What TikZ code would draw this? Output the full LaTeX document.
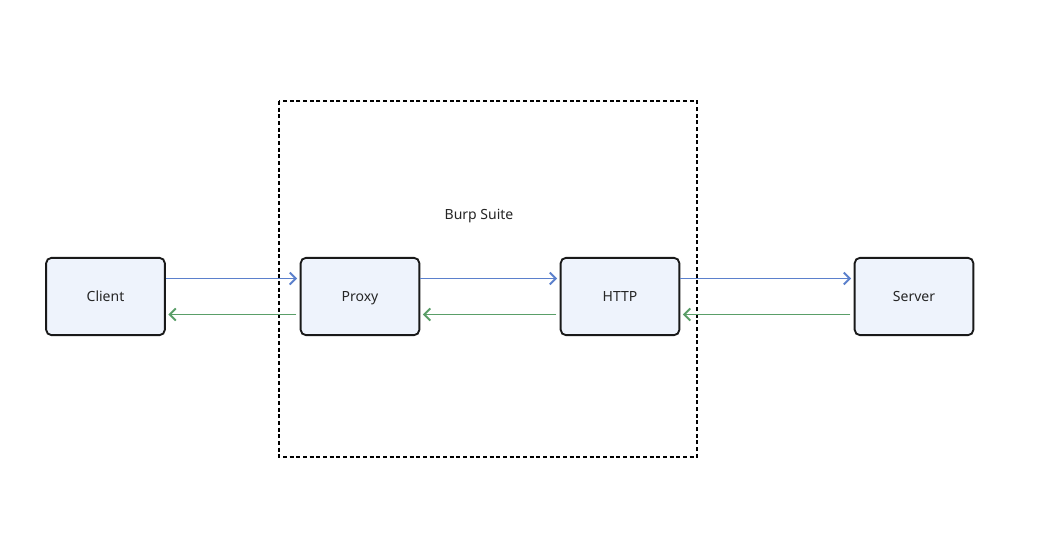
\documentclass[tikz,border=0pt]{standalone}
\usepackage{fontspec}
\setmainfont{Noto Sans}
\usepackage{xcolor}
\usetikzlibrary{arrows.meta,positioning}

\definecolor{boxfill}{HTML}{EEF3FC}
\definecolor{reqblue}{HTML}{5B80CC}
\definecolor{resgreen}{HTML}{5A9E68}

\begin{document}
\begin{tikzpicture}[x=0.75pt,y=-0.75pt,
	box/.style={draw=black!90,line width=1.4pt,fill=boxfill,rounded corners=4pt,
		minimum width=89pt,minimum height=58pt,inner sep=0pt,text height=10pt,text depth=2pt,
		font=\fontsize{10.5}{12}\selectfont,text=black!85},
	req/.style={-{Straight Barb[length=4.5pt,width=9pt]},reqblue,line width=1.4pt,shorten >=2pt},
	res/.style={-{Straight Barb[length=4.5pt,width=9pt]},resgreen,line width=1.4pt,shorten >=2pt,shorten <=2.5pt}]
		\useasboundingbox (0,0) rectangle (1048,539);
		\draw[line width=1.5pt,dash pattern=on 3pt off 2pt] (279,101) rectangle (697,457);
		\node[font=\fontsize{10.5}{12}\selectfont,text=black!85] (burp) at (479,216) {Burp Suite};
			\node[box] (client) at (105.5,296.5) {Client};
			\node[box] (proxy) at (360,296.5) {Proxy};
			\node[box] (http) at (620,296.5) {HTTP};
			\node[box] (server) at (914,296.5) {Server};
		\draw[req] ([yshift=13.5pt]client.east) -- ([yshift=13.5pt]proxy.west);
		\draw[req] ([yshift=13.5pt]proxy.east) -- ([yshift=13.5pt]http.west);
		\draw[req] ([yshift=13.5pt]http.east) -- ([yshift=13.5pt]server.west);
		\draw[res] ([yshift=-13.5pt]server.west) -- ([yshift=-13.5pt]http.east);
		\draw[res] ([yshift=-13.5pt]http.west) -- ([yshift=-13.5pt]proxy.east);
		\draw[res] ([yshift=-13.5pt]proxy.west) -- ([yshift=-13.5pt]client.east);
	\end{tikzpicture}
\end{document}
